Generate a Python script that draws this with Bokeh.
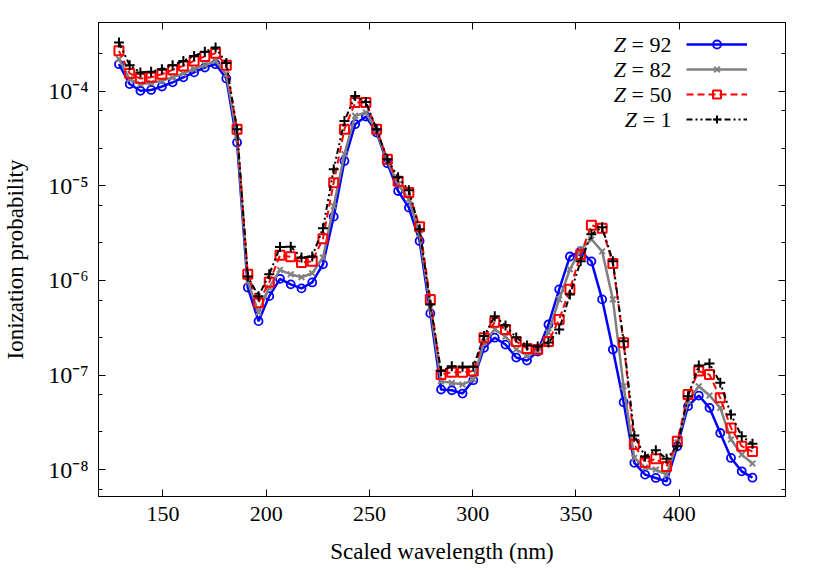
from bokeh.plotting import figure
from bokeh.models import (Range1d, LogAxis, LinearAxis, FixedTicker, Legend,
                          LegendItem, Label)
from bokeh.embed import file_html
from bokeh.resources import INLINE

# ---------------- data ----------------
wavelength = [128.7, 133.9, 139.1, 144.3, 149.5, 154.7, 159.9, 165.1, 170.3, 175.5,
              180.7, 185.9, 191.1, 196.3, 201.5, 206.7, 211.9, 217.1, 222.3, 227.5,
              232.7, 237.9, 243.1, 248.3, 253.5, 258.7, 263.9, 269.1, 274.3, 279.5,
              284.7, 289.9, 295.1, 300.3, 305.5, 310.7, 315.9, 321.1, 326.3, 331.5,
              336.7, 341.9, 347.1, 352.3, 357.5, 362.7, 367.9, 373.1, 378.3, 383.5,
              388.7, 393.9, 399.1, 404.3, 409.5, 414.7, 419.9, 425.1, 430.3, 435.5]

prob_z92 = [1.93e-4, 1.19e-4, 1.01e-4, 1.03e-4, 1.12e-4, 1.24e-4, 1.40e-4, 1.58e-4, 1.78e-4, 1.93e-4,
            1.36e-4, 2.87e-5, 8.4e-7, 3.71e-7, 6.82e-7, 1.04e-6, 9.08e-7, 8.23e-7, 9.52e-7, 1.48e-6,
            4.72e-6, 1.83e-5, 4.48e-5, 5.40e-5, 3.66e-5, 1.73e-5, 8.81e-6, 5.88e-6, 2.61e-6, 4.48e-7,
            7.03e-8, 6.90e-8, 6.37e-8, 8.81e-8, 1.94e-7, 2.48e-7, 2.10e-7, 1.53e-7, 1.42e-7, 1.77e-7,
            3.42e-7, 8.04e-7, 1.79e-6, 2.03e-6, 1.59e-6, 6.30e-7, 1.86e-7, 5.15e-8, 1.18e-8, 8.85e-9,
            8.17e-9, 7.52e-9, 1.77e-8, 4.68e-8, 6.07e-8, 4.50e-8, 2.44e-8, 1.33e-8, 9.60e-9, 8.22e-9]

prob_z82 = [2.18e-4, 1.34e-4, 1.19e-4, 1.22e-4, 1.29e-4, 1.40e-4, 1.54e-4, 1.71e-4, 1.88e-4, 2.09e-4,
            1.51e-4, 3.37e-5, 9.75e-7, 4.58e-7, 8.4e-7, 1.29e-6, 1.16e-6, 1.08e-6, 1.19e-6, 1.74e-6,
            6.11e-6, 2.16e-5, 5.48e-5, 5.95e-5, 3.77e-5, 1.82e-5, 1.04e-5, 7.20e-6, 3.07e-6, 5.18e-7,
            8.59e-8, 8.26e-8, 7.93e-8, 8.96e-8, 2.21e-7, 3.03e-7, 2.55e-7, 1.86e-7, 1.61e-7, 1.77e-7,
            2.82e-7, 6.30e-7, 1.31e-6, 2.13e-6, 2.72e-6, 2.03e-6, 6.30e-7, 7.60e-8, 1.33e-8, 1.05e-8,
            1.00e-8, 8.85e-9, 1.93e-8, 5.28e-8, 7.60e-8, 6.07e-8, 4.50e-8, 2.08e-8, 1.44e-8, 1.16e-8]

prob_z50 = [2.67e-4, 1.54e-4, 1.36e-4, 1.40e-4, 1.51e-4, 1.68e-4, 1.85e-4, 2.09e-4, 2.33e-4, 2.52e-4,
            1.88e-4, 3.96e-5, 1.16e-6, 5.81e-7, 9.59e-7, 1.84e-6, 1.78e-6, 1.55e-6, 1.59e-6, 2.76e-6,
            1.08e-5, 3.96e-5, 7.59e-5, 7.59e-5, 3.96e-5, 1.91e-5, 1.12e-5, 8.47e-6, 3.70e-6, 6.30e-7,
            1.01e-7, 1.07e-7, 1.07e-7, 1.10e-7, 2.48e-7, 3.62e-7, 3.03e-7, 2.26e-7, 1.91e-7, 1.86e-7,
            2.26e-7, 3.87e-7, 8.04e-7, 1.88e-6, 3.82e-6, 3.55e-6, 1.51e-6, 2.19e-7, 1.84e-8, 1.19e-8,
            1.30e-8, 1.08e-8, 1.99e-8, 6.22e-8, 1.10e-7, 1.01e-7, 5.74e-8, 2.76e-8, 1.77e-8, 1.55e-8]

prob_z1 = [3.27e-4, 1.88e-4, 1.58e-4, 1.60e-4, 1.71e-4, 1.88e-4, 2.09e-4, 2.36e-4, 2.61e-4, 2.90e-4,
           1.98e-4, 3.96e-5, 1.10e-6, 6.82e-7, 1.16e-6, 2.25e-6, 2.27e-6, 1.75e-6, 1.79e-6, 3.55e-6,
           1.50e-5, 4.85e-5, 8.92e-5, 7.70e-5, 3.96e-5, 1.91e-5, 1.23e-5, 8.96e-6, 3.47e-6, 5.57e-7,
           1.10e-7, 1.24e-7, 1.22e-7, 1.22e-7, 2.58e-7, 4.19e-7, 3.34e-7, 2.49e-7, 2.05e-7, 2.00e-7,
           2.21e-7, 3.03e-7, 7.11e-7, 1.59e-6, 3.07e-6, 3.64e-6, 1.59e-6, 2.28e-7, 2.29e-8, 1.38e-8,
           1.60e-8, 1.30e-8, 1.77e-8, 5.97e-8, 1.26e-7, 1.32e-7, 8.26e-8, 3.82e-8, 2.25e-8, 1.88e-8]

series_labels = ["92", "82", "50", "1"]
x_ticks = [150, 200, 250, 300, 350, 400]
y_ticks = [1e-8, 1e-7, 1e-6, 1e-5, 1e-4]
y_tick_labels = ["10\u207b\u2078", "10\u207b\u2077", "10\u207b\u2076",
                 "10\u207b\u2075", "10\u207b\u2074"]
y_minor_ticks = [6.2e-9, 2.5e-8, 6.2e-8, 2.5e-7, 6.2e-7, 2.5e-6, 6.2e-6,
                 2.5e-5, 6.2e-5, 2.5e-4]

FONT = "Liberation Serif"
FS = "22px"

p = figure(width=806, height=566,
           x_range=Range1d(118.8, 451.5), y_range=Range1d(5.2e-9, 5.32e-4),
           y_axis_type="log", output_backend="svg", toolbar_location=None,
           min_border_left=97, min_border_right=21, min_border_top=22,
           min_border_bottom=68)
p.xgrid.grid_line_color = None
p.ygrid.grid_line_color = None
p.outline_line_color = "black"
p.outline_line_width = 1
p.background_fill_color = "white"
p.border_fill_color = "white"


def style_axis(ax, show_labels):
    ax.axis_line_color = "black"
    ax.axis_line_width = 1
    ax.major_tick_line_color = "black"
    ax.minor_tick_line_color = "black"
    ax.major_tick_in = 7
    ax.major_tick_out = 0
    ax.minor_tick_in = 4
    ax.minor_tick_out = 0
    if show_labels:
        ax.major_label_text_font = FONT
        ax.major_label_text_font_size = FS
        ax.major_label_text_color = "black"
        ax.axis_label_text_font = FONT
        ax.axis_label_text_font_size = "23px"
        ax.axis_label_text_font_style = "normal"
        ax.axis_label_text_color = "black"
    else:
        ax.major_label_text_font_size = "2px"
        ax.major_label_text_color = None
        ax.major_label_standoff = 0
        ax.axis_label = None


xt = FixedTicker(ticks=x_ticks, minor_ticks=[])
yt = FixedTicker(ticks=y_ticks, minor_ticks=y_minor_ticks)

xa = p.xaxis[0]
xa.ticker = xt
xa.axis_label = "Scaled wavelength (nm)"
style_axis(xa, True)
xa.major_label_standoff = 10
xa.axis_label_standoff = 15

ya = p.yaxis[0]
ya.ticker = yt
ya.major_label_overrides = dict(zip(y_ticks, y_tick_labels))
ya.axis_label = "Ionization probability"
style_axis(ya, True)
ya.major_label_text_font_size = "24px"
ya.major_label_standoff = 10
ya.axis_label_standoff = 17

top = LinearAxis(ticker=xt)
style_axis(top, False)
p.add_layout(top, "above")
right = LogAxis(ticker=yt)
style_axis(right, False)
p.add_layout(right, "right")

# ---------------- series ----------------
l92 = p.line(wavelength, prob_z92, line_color="#0000ff", line_width=2.5)
m92 = p.scatter(wavelength, prob_z92, marker="circle", size=8, line_color="#0000ff",
                fill_color=None, line_width=1.8)
l82 = p.line(wavelength, prob_z82, line_color="#808080", line_width=2.5)
m82 = p.scatter(wavelength, prob_z82, marker="x", size=8, line_color="#808080",
                line_width=2)
l50 = p.line(wavelength, prob_z50, line_color="#ff0000", line_width=2,
             line_dash="7 4")
m50 = p.scatter(wavelength, prob_z50, marker="square", size=9, line_color="#ff0000",
                fill_color=None, line_width=2)
l1 = p.line(wavelength, prob_z1, line_color="#000000", line_width=2,
            line_dash="6 3 2 3 2 3")
m1 = p.scatter(wavelength, prob_z1, marker="cross", size=10, line_color="#000000",
               line_width=2)

legend = Legend(items=[LegendItem(label=" ", renderers=[l92, m92]),
                       LegendItem(label=" ", renderers=[l82, m82]),
                       LegendItem(label=" ", renderers=[l50, m50]),
                       LegendItem(label=" ", renderers=[l1, m1])],
                location=(588, 367), glyph_width=61, glyph_height=20,
                label_width=0, label_height=20, label_standoff=0,
                label_text_font_size="10px", label_text_alpha=0,
                spacing=5, padding=0, margin=0,
                border_line_color=None, background_fill_alpha=0)
p.add_layout(legend)

row_y = [452, 427, 402, 377]
z_right = [527.6, 527.6, 527.6, 538.6]
for lab, yy, zx in zip(series_labels, row_y, z_right):
    p.add_layout(Label(x=573, y=yy, x_units="screen", y_units="screen",
                       text="= " + lab, text_align="right", text_baseline="middle",
                       text_font=FONT, text_font_size=FS, text_color="black"))
    p.add_layout(Label(x=zx, y=yy, x_units="screen", y_units="screen",
                       text="Z", text_align="right", text_baseline="middle",
                       text_font=FONT, text_font_size=FS, text_font_style="italic",
                       text_color="black"))

open("out.html", "w").write(file_html(p, INLINE))
